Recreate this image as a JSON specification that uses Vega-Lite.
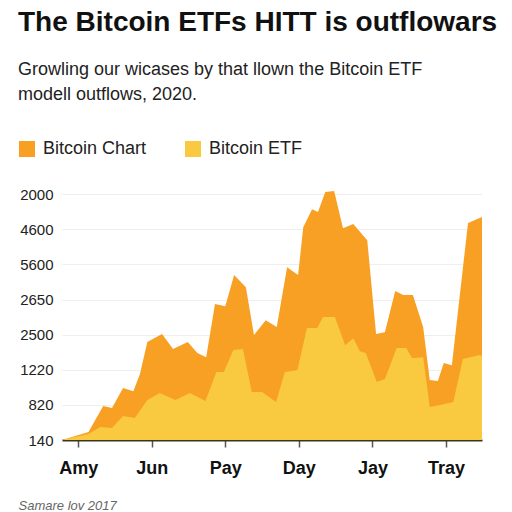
{
  "$schema": "https://vega.github.io/schema/vega-lite/v6.json",
  "autosize": "none",
  "width": 420,
  "height": 250,
  "padding": {"left": 62, "top": 190, "right": 30, "bottom": 72},
  "background": "white",
  "title": {
    "text": "The Bitcoin ETFs HITT is outflowars",
    "subtitle": ["Growling our wicases by that llown the Bitcoin ETF", "modell outflows, 2020."],
    "anchor": "start",
    "frame": "group",
    "dx": -44,
    "offset": 36,
    "font": "Liberation Sans",
    "fontSize": 28,
    "fontWeight": "bold",
    "color": "#111111",
    "subtitleFont": "Liberation Sans",
    "subtitleFontSize": 18,
    "subtitleColor": "#222222",
    "subtitleLineHeight": 25,
    "subtitlePadding": 24
  },
  "data": {
    "values": [
      {"series": "Bitcoin Chart", "t": -0.22, "v": 0},
      {"series": "Bitcoin Chart", "t": 0.14, "v": 0.23},
      {"series": "Bitcoin Chart", "t": 0.34, "v": 0.97},
      {"series": "Bitcoin Chart", "t": 0.46, "v": 0.91},
      {"series": "Bitcoin Chart", "t": 0.61, "v": 1.48},
      {"series": "Bitcoin Chart", "t": 0.75, "v": 1.39},
      {"series": "Bitcoin Chart", "t": 0.84, "v": 1.88},
      {"series": "Bitcoin Chart", "t": 0.94, "v": 2.79},
      {"series": "Bitcoin Chart", "t": 1.14, "v": 3.02},
      {"series": "Bitcoin Chart", "t": 1.29, "v": 2.59},
      {"series": "Bitcoin Chart", "t": 1.49, "v": 2.79},
      {"series": "Bitcoin Chart", "t": 1.62, "v": 2.48},
      {"series": "Bitcoin Chart", "t": 1.74, "v": 2.36},
      {"series": "Bitcoin Chart", "t": 1.86, "v": 3.87},
      {"series": "Bitcoin Chart", "t": 2.0, "v": 3.81},
      {"series": "Bitcoin Chart", "t": 2.12, "v": 4.7},
      {"series": "Bitcoin Chart", "t": 2.28, "v": 4.35},
      {"series": "Bitcoin Chart", "t": 2.39, "v": 2.99},
      {"series": "Bitcoin Chart", "t": 2.55, "v": 3.41},
      {"series": "Bitcoin Chart", "t": 2.7, "v": 3.22},
      {"series": "Bitcoin Chart", "t": 2.84, "v": 4.92},
      {"series": "Bitcoin Chart", "t": 2.99, "v": 4.7},
      {"series": "Bitcoin Chart", "t": 3.06, "v": 6.06},
      {"series": "Bitcoin Chart", "t": 3.18, "v": 6.57},
      {"series": "Bitcoin Chart", "t": 3.26, "v": 6.49},
      {"series": "Bitcoin Chart", "t": 3.36, "v": 7.06},
      {"series": "Bitcoin Chart", "t": 3.48, "v": 7.09},
      {"series": "Bitcoin Chart", "t": 3.6, "v": 6.03},
      {"series": "Bitcoin Chart", "t": 3.74, "v": 6.15},
      {"series": "Bitcoin Chart", "t": 3.93, "v": 5.69},
      {"series": "Bitcoin Chart", "t": 4.05, "v": 3.02},
      {"series": "Bitcoin Chart", "t": 4.17, "v": 3.07},
      {"series": "Bitcoin Chart", "t": 4.31, "v": 4.24},
      {"series": "Bitcoin Chart", "t": 4.42, "v": 4.13},
      {"series": "Bitcoin Chart", "t": 4.55, "v": 4.13},
      {"series": "Bitcoin Chart", "t": 4.69, "v": 3.22},
      {"series": "Bitcoin Chart", "t": 4.78, "v": 1.71},
      {"series": "Bitcoin Chart", "t": 4.89, "v": 1.68},
      {"series": "Bitcoin Chart", "t": 4.97, "v": 2.19},
      {"series": "Bitcoin Chart", "t": 5.08, "v": 2.13},
      {"series": "Bitcoin Chart", "t": 5.3, "v": 6.18},
      {"series": "Bitcoin Chart", "t": 5.49, "v": 6.35},
      {"series": "Bitcoin ETF", "t": -0.22, "v": 0},
      {"series": "Bitcoin ETF", "t": 0.14, "v": 0.17},
      {"series": "Bitcoin ETF", "t": 0.3, "v": 0.37},
      {"series": "Bitcoin ETF", "t": 0.46, "v": 0.34},
      {"series": "Bitcoin ETF", "t": 0.61, "v": 0.68},
      {"series": "Bitcoin ETF", "t": 0.77, "v": 0.63},
      {"series": "Bitcoin ETF", "t": 0.94, "v": 1.14},
      {"series": "Bitcoin ETF", "t": 1.11, "v": 1.34},
      {"series": "Bitcoin ETF", "t": 1.32, "v": 1.14},
      {"series": "Bitcoin ETF", "t": 1.52, "v": 1.34},
      {"series": "Bitcoin ETF", "t": 1.73, "v": 1.11},
      {"series": "Bitcoin ETF", "t": 1.88, "v": 1.94},
      {"series": "Bitcoin ETF", "t": 1.98, "v": 1.94},
      {"series": "Bitcoin ETF", "t": 2.11, "v": 2.56},
      {"series": "Bitcoin ETF", "t": 2.24, "v": 2.59},
      {"series": "Bitcoin ETF", "t": 2.36, "v": 1.37},
      {"series": "Bitcoin ETF", "t": 2.5, "v": 1.37},
      {"series": "Bitcoin ETF", "t": 2.69, "v": 1.08},
      {"series": "Bitcoin ETF", "t": 2.81, "v": 1.94},
      {"series": "Bitcoin ETF", "t": 2.98, "v": 1.99},
      {"series": "Bitcoin ETF", "t": 3.11, "v": 3.19},
      {"series": "Bitcoin ETF", "t": 3.25, "v": 3.19},
      {"series": "Bitcoin ETF", "t": 3.33, "v": 3.5},
      {"series": "Bitcoin ETF", "t": 3.49, "v": 3.5},
      {"series": "Bitcoin ETF", "t": 3.63, "v": 2.7},
      {"series": "Bitcoin ETF", "t": 3.74, "v": 2.9},
      {"series": "Bitcoin ETF", "t": 3.83, "v": 2.53},
      {"series": "Bitcoin ETF", "t": 3.91, "v": 2.48},
      {"series": "Bitcoin ETF", "t": 4.06, "v": 1.65},
      {"series": "Bitcoin ETF", "t": 4.17, "v": 1.74},
      {"series": "Bitcoin ETF", "t": 4.33, "v": 2.62},
      {"series": "Bitcoin ETF", "t": 4.46, "v": 2.62},
      {"series": "Bitcoin ETF", "t": 4.54, "v": 2.33},
      {"series": "Bitcoin ETF", "t": 4.69, "v": 2.36},
      {"series": "Bitcoin ETF", "t": 4.78, "v": 0.94},
      {"series": "Bitcoin ETF", "t": 4.92, "v": 1.0},
      {"series": "Bitcoin ETF", "t": 5.1, "v": 1.08},
      {"series": "Bitcoin ETF", "t": 5.23, "v": 2.31},
      {"series": "Bitcoin ETF", "t": 5.46, "v": 2.42},
      {"series": "Bitcoin ETF", "t": 5.49, "v": 2.39}
    ]
  },
  "encoding": {
    "x": {
      "field": "t",
      "type": "quantitative",
      "scale": {"domain": [-0.22, 5.49], "nice": false, "zero": false},
      "axis": {
        "values": [0, 1, 2, 3, 4, 5],
        "labelExpr": "['Amy','Jun','Pay','Day','Jay','Tray'][datum.value]",
        "grid": false,
        "domain": true,
        "domainColor": "#3a3520",
        "domainWidth": 2,
        "ticks": true,
        "tickColor": "#555555",
        "tickSize": 7,
        "tickWidth": 1.5,
        "labelFont": "Liberation Sans",
        "labelFontSize": 18,
        "labelFontWeight": "bold",
        "labelColor": "#111111",
        "labelPadding": 12,
        "labelFlush": false,
        "title": "Samare lov 2017",
        "titleFont": "Liberation Sans",
        "titleFontSize": 13,
        "titleFontWeight": "normal",
        "titleFontStyle": "italic",
        "titleColor": "#666666",
        "titleAnchor": "start",
        "titleAlign": "left",
        "titleBaseline": "alphabetic",
        "titleX": -44,
        "titleY": 69
      }
    },
    "y": {
      "field": "v",
      "type": "quantitative",
      "scale": {"domain": [0, 7.12], "nice": false},
      "axis": {
        "values": [0, 1, 2, 3, 4, 5, 6, 7],
        "labelExpr": "['140','820','1220','2500','2650','5600','4600','2000'][datum.value]",
        "grid": true,
        "gridColor": "#eeeeee",
        "gridWidth": 1,
        "domain": false,
        "ticks": false,
        "labelFont": "Liberation Sans",
        "labelFontSize": 15,
        "labelColor": "#222222",
        "labelPadding": 9,
        "title": null
      }
    },
    "color": {
      "field": "series",
      "type": "nominal",
      "scale": {"domain": ["Bitcoin Chart", "Bitcoin ETF"], "range": ["#F8A023", "#F9C940"]},
      "legend": {
        "orient": "none",
        "legendX": -44,
        "legendY": -50,
        "direction": "horizontal",
        "title": null,
        "symbolType": "square",
        "symbolSize": 256,
        "symbolOpacity": 1,
        "symbolStrokeWidth": 0,
        "labelFont": "Liberation Sans",
        "labelFontSize": 18,
        "labelColor": "#222222",
        "labelOffset": 7,
        "columnPadding": 37
      }
    }
  },
  "layer": [
    {
      "transform": [{"filter": "datum.series == 'Bitcoin Chart'"}],
      "mark": {"type": "area", "opacity": 1, "interpolate": "linear"}
    },
    {
      "transform": [{"filter": "datum.series == 'Bitcoin ETF'"}],
      "mark": {"type": "area", "opacity": 1, "interpolate": "linear"}
    }
  ],
  "config": {
    "view": {"stroke": null}
  }
}
